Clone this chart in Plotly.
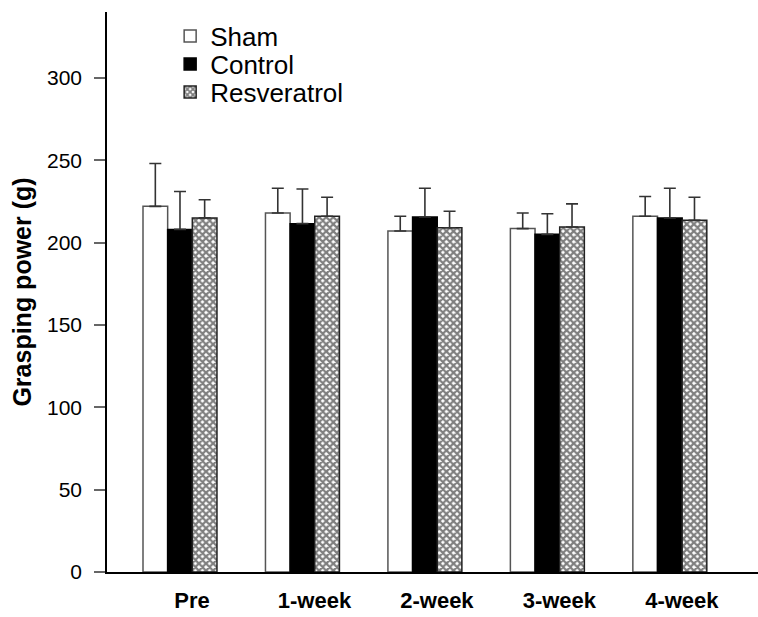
import plotly.graph_objects as go

categories = ["Pre", "1-week", "2-week", "3-week", "4-week"]
sham = [222, 218, 207, 208.5, 216]
sham_err = [26, 15, 9, 9.5, 12]
control = [208, 211.5, 215.5, 205, 215]
control_err = [23, 21, 17.5, 12.5, 18]
resveratrol = [215, 216, 209, 209.5, 213.5]
resveratrol_err = [11, 11.5, 10, 14, 14]
y_ticks = [0, 50, 100, 150, 200, 250, 300]

FONT = "Liberation Sans, Arial, Helvetica, sans-serif"
zeros = [0] * len(categories)

def err(vals):
    return dict(type="data", symmetric=False, array=vals, arrayminus=zeros,
                color="#333333", thickness=1.6, width=6)

fig = go.Figure()
fig.add_trace(go.Bar(
    x=categories, y=sham, name="Sham", legend="legend",
    marker=dict(color="white", line=dict(color="#555555", width=1.5)),
    error_y=err(sham_err)))
fig.add_trace(go.Bar(
    x=categories, y=control, name="Control", legend="legend2",
    marker=dict(color="black", line=dict(color="black", width=1.5)),
    error_y=err(control_err)))
fig.add_trace(go.Bar(
    x=categories, y=resveratrol, name="Resveratrol", legend="legend3",
    marker=dict(color="white", line=dict(color="#222222", width=1.5),
                pattern=dict(shape="x", fgcolor="black", bgcolor="white",
                             size=5, solidity=0.7)),
    error_y=err(resveratrol_err)))

def leg(y):
    return dict(x=0.097, y=y, xanchor="left", yanchor="middle",
                bgcolor="rgba(0,0,0,0)", borderwidth=0,
                font=dict(family=FONT, size=26, color="black"))

fig.update_layout(
    width=758, height=617,
    margin=dict(l=107, r=0, t=12, b=45),
    paper_bgcolor="white", plot_bgcolor="white",
    barmode="group", bargap=0.396, bargroupgap=0,
    showlegend=True,
    legend=leg(0.957), legend2=leg(0.907), legend3=leg(0.857),
    font=dict(family=FONT, color="black"),
    xaxis=dict(
        range=[-0.596, 4.72], showline=True, linecolor="black", linewidth=1.5,
        ticks="", showgrid=False, zeroline=False,
        tickfont=dict(family=FONT, size=22, color="black", weight="bold"),
        ticklabelstandoff=8, ticklabelshift=12),
    yaxis=dict(
        range=[0, 340], tickvals=y_ticks, showline=True, linecolor="black",
        linewidth=1.5, ticks="outside", ticklen=11, tickwidth=1.5,
        tickcolor="#666666", showgrid=False, zeroline=False,
        ticklabelstandoff=8,
        tickfont=dict(family=FONT, size=21, color="black"),
        title=dict(text="<b>Grasping power (g)</b>", standoff=8,
                   font=dict(family=FONT, size=25, color="black"))),
)

fig.write_html("out.html", config={"displayModeBar": False},
               post_script="document.body.style.margin='0';document.body.style.padding='0';")
